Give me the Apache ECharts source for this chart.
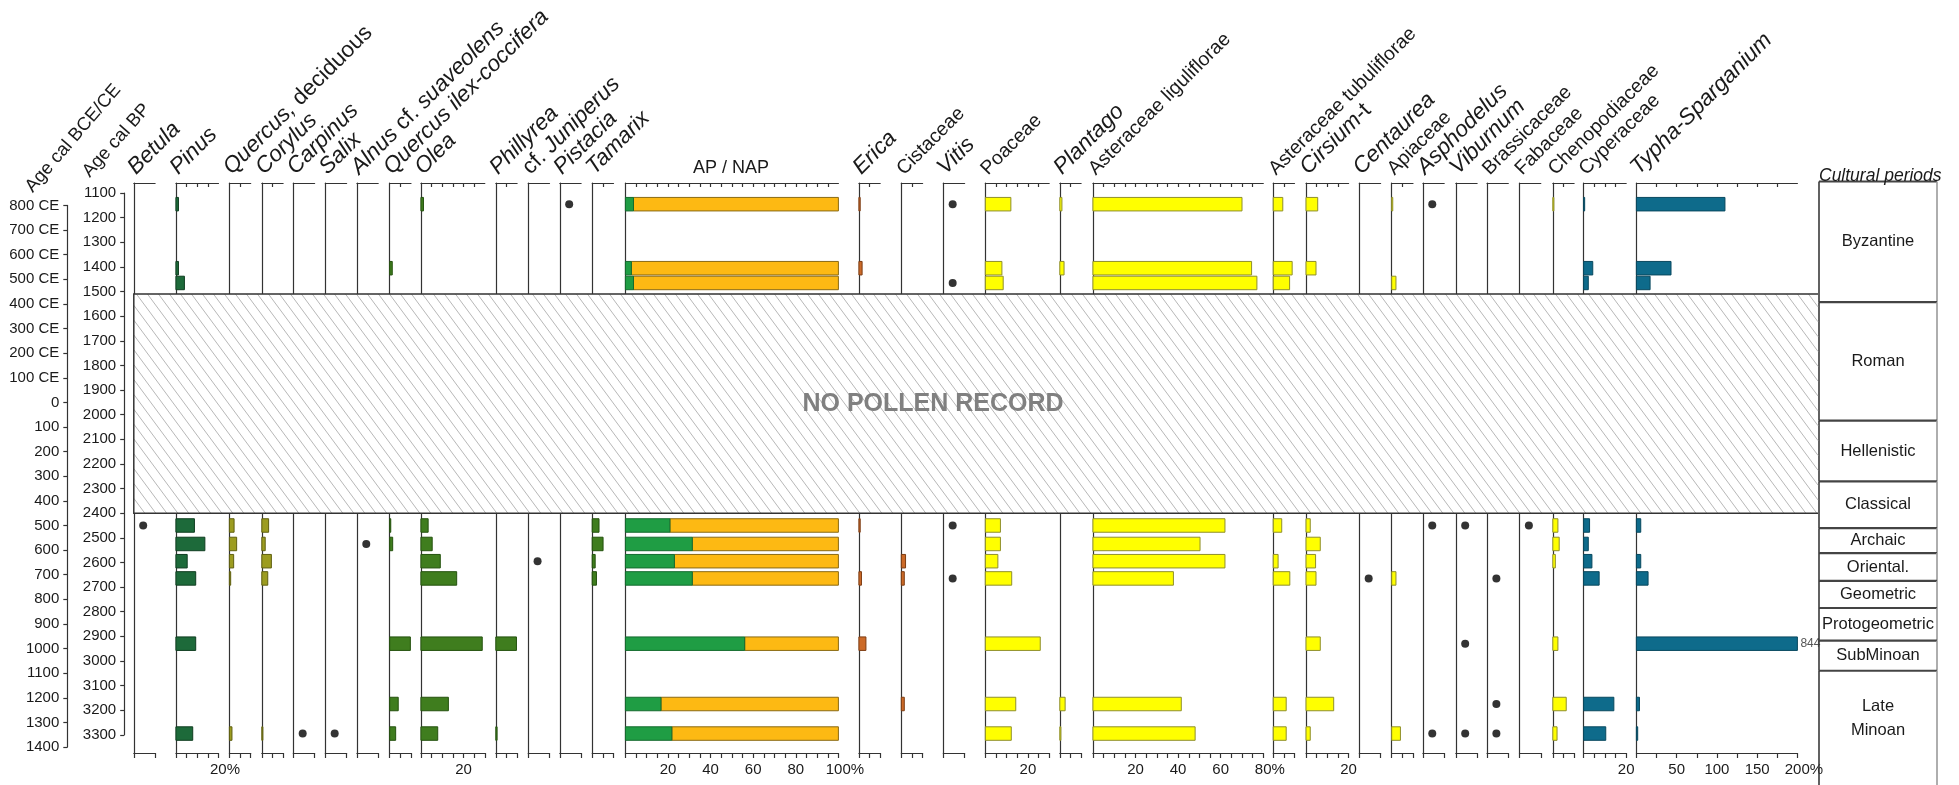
<!DOCTYPE html>
<html>
<head>
<meta charset="utf-8">
<title>Pollen diagram</title>
<script src="https://cdn.jsdelivr.net/npm/echarts@6/dist/echarts.min.js"></script>
<style>
  html, body { margin: 0; padding: 0; background: #fff; }
  #chart { width: 1959px; height: 785px; }
</style>
</head>
<body>
<div id="chart"></div>
<script>
// ---- Data -------------------------------------------------------------
// Ages (cal BP) of the pollen spectra, youngest first
const sampleAgesBP = [1145, 1405, 1465, 2450, 2525, 2595, 2665, 2930, 3175, 3295];

// Percentages per taxon, one entry per spectrum; '+' = present as a trace only
const betula         = [0, 0, 0, '+', 0, 0, 0, 0, 0, 0];
const pinus          = [1.2, 1.2, 4, 8.7, 13.6, 5.3, 9.3, 9.3, 0, 7.9];
const quercusDecid   = [0, 0, 0, 2.2, 3.4, 2, 0.6, 0, 0, 1.2];
const corylus        = [0, 0, 0, 3.2, 1.6, 4.5, 2.8, 0, 0, 0.5];
const carpinus       = [0, 0, 0, 0, 0, 0, 0, 0, 0, '+'];
const salix          = [0, 0, 0, 0, 0, 0, 0, 0, 0, '+'];
const alnus          = [0, 0, 0, 0, '+', 0, 0, 0, 0, 0];
const quercusIlex    = [0, 1.2, 0, 0.5, 1.4, 0, 0, 9.7, 4, 2.8];
const olea           = [1.2, 0, 0, 3.4, 5.3, 9.1, 16.8, 28.8, 12.9, 7.9];
const phillyrea      = [0, 0, 0, 0, 0, 0, 0, 9.7, 0, 0.6];
const juniperus      = [0, 0, 0, 0, 0, '+', 0, 0, 0, 0];
const pistacia       = ['+', 0, 0, 0, 0, 0, 0, 0, 0, 0];
const tamarix        = [0, 0, 0, 3.2, 5.1, 1.4, 2, 0, 0, 0];
const arborealPollen    = [3.8, 2.8, 3.8, 20.9, 31.4, 23, 31.4, 56, 16.7, 21.8];
const nonArborealPollen = [96.2, 97.2, 96.2, 79.1, 68.6, 77, 68.6, 44, 83.3, 78.2];
const erica          = [0.6, 1.5, 0, 0.6, 0, 0, 1.2, 3.3, 0, 0];
const cistaceae      = [0, 0, 0, 0, 0, 2, 1.4, 0, 1.4, 0];
const vitis          = ['+', 0, '+', '+', 0, 0, '+', 0, 0, 0];
const poaceae        = [12, 7.8, 8.4, 7.1, 7.1, 5.9, 12.4, 25.8, 14.3, 12.2];
const plantago       = [1, 2, 0, 0, 0, 0, 0, 0, 2.5, 0.5];
const asterLiguli    = [70, 74.5, 77, 62, 50.3, 62, 37.8, 0, 41.5, 48];
const asterTubuli    = [4.5, 8.9, 7.7, 4, 0, 2.3, 7.8, 0, 6.1, 6.1];
const cirsium        = [5.5, 4.7, 0, 2, 6.7, 4.5, 4.7, 6.7, 13, 2];
const centaurea      = [0, 0, 0, 0, 0, 0, '+', 0, 0, 0];
const apiaceae       = [0.5, 0, 2, 0, 0, 0, 2, 0, 0, 4.1];
const asphodelus     = ['+', 0, 0, '+', 0, 0, 0, 0, 0, '+'];
const viburnum       = [0, 0, 0, '+', 0, 0, 0, '+', 0, '+'];
const brassicaceae   = [0, 0, 0, 0, 0, 0, '+', 0, '+', '+'];
const fabaceae       = [0, 0, 0, '+', 0, 0, 0, 0, 0, 0];
const chenopodiaceae = [0.5, 0, 0, 2.4, 3, 1.2, 0, 2.4, 6.3, 2];
const cyperaceae     = [0.5, 4.3, 2.2, 2.8, 2.2, 3.9, 7.3, 0, 14.2, 10.4];
const typhaSparg     = [110, 43, 17, 5.4, 0, 5.4, 14.5, 844, 3.8, 1.6];

// Cultural periods: names and their boundaries (cal BP)
const periodNames    = ['Byzantine', 'Roman', 'Hellenistic', 'Classical', 'Archaic', 'Oriental.',
                        'Geometric', 'Protogeometric', 'SubMinoan', 'Late\nMinoan'];
const periodBoundsBP = [1053, 1543, 2024, 2271, 2461, 2562, 2675, 2785, 2918, 3040, 3425];

// Interval without pollen record (cal BP)
const hiatusBP = [1510, 2400];

// Age scales: cal BP and calendar years (negative = BCE)
const ageBPRange  = [1100, 3300];
const ageCalRange = [-1400, 800];

// ---- Layout & style ---------------------------------------------------
const FONT = '"Liberation Sans", Arial, Helvetica, sans-serif';
const INK = '#1a1a1a';
const LINE = '#333333';
const PX_PER_PCT = 2.13;
const PANEL_TOP = 183, PANEL_HEIGHT = 570;
const AXIS_AGE_TOP = 1059, AXIS_AGE_BOTTOM = 3374;
const PX_PER_YEAR = PANEL_HEIGHT / (AXIS_AGE_BOTTOM - AXIS_AGE_TOP);
const BAR_HEIGHT = 13.5;
const TRACE_X = 4.4;
const NAME_SIZE = 19.5, NAME_SIZE_ITALIC = 22.5;

const TREE_DARK  = { fill: '#1d6a3a', stroke: '#0f3d20' };
const TREE_OLIVE = { fill: '#9c9c20', stroke: '#5f5f10' };
const TREE_GREEN = { fill: '#3f7d1e', stroke: '#24520e' };
const SHRUB      = { fill: '#cc6a28', stroke: '#7d3c12' };
const HERB       = { fill: '#ffff00', stroke: '#8f8f2c' };
const WETLAND    = { fill: '#0e6b8b', stroke: '#08485e' };

const panels = [
  { name: '{i|Betula}', values: betula, left: 133.8, max: 10 },
  { name: '{i|Pinus}', values: pinus, left: 175.9, max: 20, style: TREE_DARK, labels: [[20, '20%']] },
  { name: '{i|Quercus,} deciduous', values: quercusDecid, left: 229.4, max: 10, style: TREE_OLIVE },
  { name: '{i|Corylus}', values: corylus, left: 261.8, max: 10, style: TREE_OLIVE },
  { name: '{i|Carpinus}', values: carpinus, left: 293.3, max: 10 },
  { name: '{i|Salix}', values: salix, left: 325.3, max: 10 },
  { name: '{i|Alnus} cf. {i|suaveolens}', values: alnus, left: 356.9, max: 10 },
  { name: '{i|Quercus ilex-coccifera}', values: quercusIlex, left: 389.7, max: 10, style: TREE_GREEN },
  { name: '{i|Olea}', values: olea, left: 420.9, max: 30, style: TREE_GREEN, labels: [[20, '20']] },
  { name: '{i|Phillyrea}', values: phillyrea, left: 495.8, max: 10, style: TREE_GREEN },
  { name: 'cf. {i|Juniperus}', values: juniperus, left: 528.2, max: 10 },
  { name: '{i|Pistacia}', values: pistacia, left: 559.8, max: 10 },
  { name: '{i|Tamarix}', values: tamarix, left: 592.2, max: 10, style: TREE_GREEN },
  { name: null, apNap: true, left: 625.4, max: 100,
    labels: [[20, '20'], [40, '40'], [60, '60'], [80, '80'], [100, '100%']] },
  { name: '{i|Erica}', values: erica, left: 858.9, max: 10, style: SHRUB },
  { name: 'Cistaceae', values: cistaceae, left: 901.3, max: 10, style: SHRUB },
  { name: '{i|Vitis}', values: vitis, left: 943.3, max: 10 },
  { name: 'Poaceae', values: poaceae, left: 985.3, max: 30, style: HERB, labels: [[20, '20']] },
  { name: '{i|Plantago}', values: plantago, left: 1059.8, max: 10, style: HERB },
  { name: 'Asteraceae liguliflorae', values: asterLiguli, left: 1092.9, max: 80, style: HERB,
    labels: [[20, '20'], [40, '40'], [60, '60'], [80, '80%']] },
  { name: 'Asteraceae tubuliflorae', values: asterTubuli, left: 1273.2, max: 10, style: HERB },
  { name: '{i|Cirsium}-t', values: cirsium, left: 1306, max: 20, style: HERB, labels: [[20, '20']] },
  { name: '{i|Centaurea}', values: centaurea, left: 1359.3, max: 10 },
  { name: 'Apiaceae', values: apiaceae, left: 1391.7, max: 10, style: HERB },
  { name: '{i|Asphodelus}', values: asphodelus, left: 1422.9, max: 10 },
  { name: '{i|Viburnum}', values: viburnum, left: 1455.8, max: 10 },
  { name: 'Brassicaceae', values: brassicaceae, left: 1487, max: 10 },
  { name: 'Fabaceae', values: fabaceae, left: 1519.5, max: 10 },
  { name: 'Chenopodiaceae', values: chenopodiaceae, left: 1552.8, max: 10, style: HERB },
  { name: 'Cyperaceae', values: cyperaceae, left: 1583.6, max: 20, style: WETLAND, labels: [[20, '20']] },
  { name: '{i|Typha-Sparganium}', values: typhaSparg, left: 1636.4, max: 200, pxPerPct: 0.805, tick: 25,
    style: WETLAND, labels: [[50, '50'], [100, '100'], [150, '150'], [200, '200%']] }
];

const PERIOD_LEFT = 1819, PERIOD_WIDTH = 118;

// ---- Series builders --------------------------------------------------
function barRenderer(style, max) {
  return function (params, api) {
    const v = api.value(0), age = api.value(1);
    const p0 = api.coord([0, age]);
    const p1 = api.coord([Math.min(v, max), age]);
    const children = [{
      type: 'rect',
      shape: { x: p0[0], y: p0[1] - BAR_HEIGHT / 2, width: Math.max(p1[0] - p0[0], 0.8), height: BAR_HEIGHT },
      style: { fill: style.fill, stroke: style.stroke, lineWidth: 1 }
    }];
    if (v > max) {
      children.push({
        type: 'text',
        style: { text: String(v), x: p1[0] + 3, y: p1[1], align: 'left', verticalAlign: 'middle',
                 fill: '#555', fontSize: 12, fontFamily: FONT }
      });
    }
    return { type: 'group', children };
  };
}

function apNapRenderer(params, api) {
  const ap = api.value(0), nap = api.value(1), age = api.value(2);
  const p0 = api.coord([0, age]);
  const p1 = api.coord([ap, age]);
  const p2 = api.coord([ap + nap, age]);
  const y = p0[1] - BAR_HEIGHT / 2;
  return {
    type: 'group',
    children: [
      { type: 'rect', shape: { x: p1[0], y, width: p2[0] - p1[0], height: BAR_HEIGHT },
        style: { fill: '#fdb913', stroke: '#8a6a14', lineWidth: 1 } },
      { type: 'rect', shape: { x: p0[0], y, width: p1[0] - p0[0], height: BAR_HEIGHT },
        style: { fill: '#1f9d44', stroke: '#146b2e', lineWidth: 1 } }
    ]
  };
}

function periodRenderer(params, api) {
  const i = api.value(2);
  const a = api.coord([0, api.value(0)]);
  const b = api.coord([1, api.value(1)]);
  const last = i === periodNames.length - 1;
  const yBottom = last ? 790 : b[1];
  return {
    type: 'group',
    children: [
      { type: 'line', shape: { x1: a[0], y1: a[1], x2: b[0], y2: a[1] },
        style: { stroke: '#444', lineWidth: 2.2 } },
      { type: 'line', shape: { x1: a[0], y1: a[1], x2: a[0], y2: yBottom },
        style: { stroke: '#3a3a3a', lineWidth: 1.6 } },
      { type: 'line', shape: { x1: b[0], y1: a[1], x2: b[0], y2: yBottom },
        style: { stroke: '#9a9a9a', lineWidth: 1.6 } },
      { type: 'text', style: { text: periodNames[i], x: (a[0] + b[0]) / 2, y: (a[1] + b[1]) / 2,
        align: 'center', verticalAlign: 'middle', fill: INK, fontSize: 16.5, fontFamily: FONT, lineHeight: 24 } }
    ]
  };
}

// ---- Option -----------------------------------------------------------
const grids = [], xAxes = [], yAxes = [], series = [];
const axisLineStyle = { color: LINE, width: 1.2 };

panels.forEach(function (p) {
  const scale = p.pxPerPct || PX_PER_PCT;
  const hasBars = p.apNap || p.values.some(v => typeof v === 'number' && v > 0);
  const step = p.tick || (hasBars ? 5 : 10);
  const topTicks = [];
  if (hasBars) for (let v = step; v < p.max - 1e-6; v += step) topTicks.push(v);

  const g = grids.length;
  grids.push({ left: p.left, top: PANEL_TOP, width: p.max * scale, height: PANEL_HEIGHT, outerBoundsMode: 'none' });

  const labelMap = {};
  (p.labels || []).forEach(l => { labelMap[l[0]] = l[1]; });
  const bottomIndex = xAxes.length;
  xAxes.push({
    gridIndex: g, type: 'value', position: 'bottom', min: 0, max: p.max, interval: step,
    axisLine: { show: true, onZero: false, lineStyle: axisLineStyle },
    axisTick: { show: true, inside: false, length: 5, lineStyle: axisLineStyle },
    axisLabel: p.labels ? {
      show: true, customValues: p.labels.map(l => l[0]), margin: 9,
      fontSize: 15, fontFamily: FONT, color: INK,
      formatter: function (v) {
        const t = labelMap[v] || '';
        return t.endsWith('%') ? '{n|' + t.slice(0, -1) + '}%' : t;
      },
      rich: { n: { fontSize: 15, fontFamily: FONT, color: INK, padding: [0, 0, 0, 13] } }
    } : { show: false },
    splitLine: { show: false }
  });
  xAxes.push({
    gridIndex: g, type: 'value', position: 'top', min: 0, max: p.max, interval: step,
    axisLine: { show: true, onZero: false, lineStyle: axisLineStyle },
    axisTick: topTicks.length ? { show: true, inside: true, length: 4, customValues: topTicks, lineStyle: axisLineStyle }
                              : { show: false },
    axisLabel: { show: false }, splitLine: { show: false }
  });
  const yIndex = yAxes.length;
  yAxes.push({
    gridIndex: g, type: 'value', min: AXIS_AGE_TOP, max: AXIS_AGE_BOTTOM, inverse: true,
    axisLine: { show: true, onZero: false, lineStyle: axisLineStyle },
    axisTick: { show: false }, axisLabel: { show: false }, splitLine: { show: false }
  });

  if (p.apNap) {
    series.push({
      type: 'custom', xAxisIndex: bottomIndex, yAxisIndex: yIndex,
      renderItem: apNapRenderer, encode: { x: [0, 1], y: 2 },
      data: sampleAgesBP.map((a, i) => [arborealPollen[i], nonArborealPollen[i], a])
    });
    return;
  }
  const bars = [], traces = [];
  p.values.forEach(function (v, i) {
    if (v === '+') traces.push([TRACE_X, sampleAgesBP[i]]);
    else if (v > 0) bars.push([v, sampleAgesBP[i]]);
  });
  if (bars.length) {
    series.push({
      type: 'custom', xAxisIndex: bottomIndex, yAxisIndex: yIndex,
      renderItem: barRenderer(p.style, p.max), encode: { x: 0, y: 1 }, data: bars
    });
  }
  if (traces.length) {
    series.push({
      type: 'scatter', xAxisIndex: bottomIndex, yAxisIndex: yIndex, symbol: 'circle', symbolSize: 8,
      itemStyle: { color: '#000' }, data: traces, silent: true
    });
  }
});

// Age axes share the vertical scale of the diagram panels
function ageGrid(left, topAgeBP) {
  return { left: left, top: PANEL_TOP + (topAgeBP - AXIS_AGE_TOP) * PX_PER_YEAR, width: 1,
           height: (ageBPRange[1] - ageBPRange[0]) * PX_PER_YEAR, outerBoundsMode: 'none' };
}
const bpGrid = grids.length;
grids.push(ageGrid(124.2, ageBPRange[0]));
xAxes.push({ gridIndex: bpGrid, type: 'value', show: false });
yAxes.push({
  gridIndex: bpGrid, type: 'value', position: 'left', inverse: true,
  min: ageBPRange[0], max: ageBPRange[1], interval: 100,
  axisLine: { show: true, onZero: false, lineStyle: axisLineStyle },
  axisTick: { show: true, inside: false, length: 4, lineStyle: axisLineStyle },
  axisLabel: { show: true, margin: 8, fontSize: 15, fontFamily: FONT, color: INK, formatter: v => String(v) },
  splitLine: { show: false }
});

const calGrid = grids.length;
grids.push(ageGrid(67.3, 1950 - ageCalRange[1]));
xAxes.push({ gridIndex: calGrid, type: 'value', show: false });
yAxes.push({
  gridIndex: calGrid, type: 'value', position: 'left',
  min: ageCalRange[0], max: ageCalRange[1], interval: 100,
  axisLine: { show: true, onZero: false, lineStyle: axisLineStyle },
  axisTick: { show: true, inside: false, length: 4, lineStyle: axisLineStyle },
  axisLabel: { show: true, margin: 8, fontSize: 15, fontFamily: FONT, color: INK,
    formatter: v => v > 0 ? v + ' CE' : String(Math.abs(v)) },
  splitLine: { show: false }
});

// Cultural periods column
const perGrid = grids.length;
grids.push({ left: PERIOD_LEFT, top: PANEL_TOP, width: PERIOD_WIDTH, height: PANEL_HEIGHT, outerBoundsMode: 'none' });
const perX = xAxes.length;
xAxes.push({ gridIndex: perGrid, type: 'value', min: 0, max: 1, show: false });
const perY = yAxes.length;
yAxes.push({ gridIndex: perGrid, type: 'value', min: AXIS_AGE_TOP, max: AXIS_AGE_BOTTOM, inverse: true, show: false });
series.push({
  type: 'custom', xAxisIndex: perX, yAxisIndex: perY, renderItem: periodRenderer,
  encode: { y: [0, 1] },
  data: periodNames.map((n, i) => [periodBoundsBP[i], periodBoundsBP[i + 1], i])
});

const chart = echarts.init(document.getElementById('chart'), null, { renderer: 'canvas' });
chart.setOption({
  backgroundColor: '#ffffff',
  animation: false,
  grid: grids, xAxis: xAxes, yAxis: yAxes, series: series
});

// ---- Annotations ------------------------------------------------------
const toY = age => chart.convertToPixel({ gridIndex: 0 }, [0, age])[1];
const hx0 = panels[0].left, hx1 = PERIOD_LEFT - 1;
const hy0 = toY(hiatusBP[0]), hy1 = toY(hiatusBP[1]);

// diagonal hatching of the hiatus
const slope = 1.35, spacing = 11, H = hy1 - hy0;
const hatchLines = [];
for (let c = hx0 - H / slope; c < hx1; c += spacing) {
  let xa = c, ya = hy0, xb = c + H / slope, yb = hy1;
  if (xa < hx0) { ya = hy0 + slope * (hx0 - c); xa = hx0; }
  if (xb > hx1) { yb = hy0 + slope * (hx1 - c); xb = hx1; }
  if (xb - xa > 0.5) {
    hatchLines.push({ type: 'line', z: 11, shape: { x1: xa, y1: ya, x2: xb, y2: yb },
                      style: { stroke: '#b8b8b8', lineWidth: 1 } });
  }
}

const elements = [
  { type: 'rect', z: 10, shape: { x: hx0, y: hy0, width: hx1 - hx0, height: H }, style: { fill: '#fff' } },
  { type: 'group', z: 11, children: hatchLines },
  { type: 'polyline', z: 12, shape: { points: [[hx1, hy0], [hx0, hy0], [hx0, hy1], [hx1, hy1]] },
    style: { fill: null, stroke: LINE, lineWidth: 1.5 } },
  { type: 'text', z: 13, x: 933, y: 404,
    style: { text: 'NO POLLEN RECORD', align: 'center', verticalAlign: 'middle', fontSize: 25,
             fontWeight: 'bold', fontFamily: FONT, fill: '#808080' } },
  { type: 'text', z: 13, x: 731, y: 168,
    style: { text: 'AP / NAP', align: 'center', verticalAlign: 'middle', fontSize: 18, fontFamily: FONT, fill: INK } },
  { type: 'text', z: 13, x: PERIOD_LEFT, y: 176,
    style: { text: 'Cultural periods', align: 'left', verticalAlign: 'middle', fontSize: 17.5,
             fontStyle: 'italic', fontFamily: FONT, fill: INK } },
  { type: 'text', z: 13, x: 36, y: 196, rotation: 0.86,
    style: { text: 'Age cal BCE/CE', align: 'left', verticalAlign: 'bottom', fontSize: 18.5, fontFamily: FONT, fill: INK } },
  { type: 'text', z: 13, x: 93, y: 181, rotation: 0.84,
    style: { text: 'Age cal BP', align: 'left', verticalAlign: 'bottom', fontSize: 18.5, fontFamily: FONT, fill: INK } }
];
panels.forEach(function (p) {
  if (!p.name) return;
  const hasItalic = p.name.indexOf('{i|') >= 0;
  const size = hasItalic ? NAME_SIZE_ITALIC : NAME_SIZE;
  elements.push({
    type: 'text', z: 13, x: p.left + 6, y: 179, rotation: Math.PI / 4,
    style: { text: p.name, align: 'left', verticalAlign: 'bottom', fontSize: size, fontFamily: FONT, fill: INK,
             rich: { i: { fontStyle: 'italic', fontSize: size, fontFamily: FONT, fill: INK } } }
  });
});
chart.setOption({ graphic: { elements: elements } });
</script>
</body>
</html>
